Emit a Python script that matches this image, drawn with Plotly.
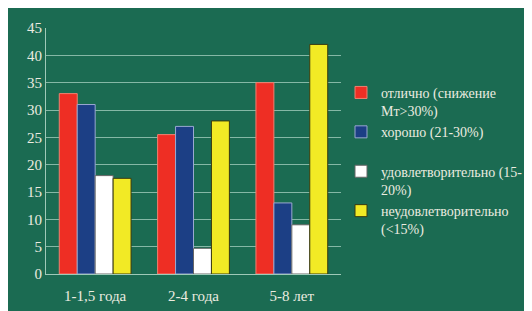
import plotly.graph_objects as go

categories = ["1-1,5 года", "2-4 года", "5-8 лет"]
series_names = ["отлично (снижение<br>Мт>30%)", "хорошо (21-30%)<br> ", "удовлетворительно (15-<br>20%)", "неудовлетворительно<br>(<15%)"]
excellent = [33, 25.5, 35]
good = [31, 27, 13]
satisfactory = [18, 4.7, 9]
unsatisfactory = [17.5, 28, 42]
colors = ["#ee2e24", "#1c3f85", "#ffffff", "#f2ea25"]
lines = ["#f08070", "#9aa8d0", "#666666", "#3a3a10"]

fig = go.Figure()
for name, vals, c, lc in zip(series_names, [excellent, good, satisfactory, unsatisfactory], colors, lines):
    fig.add_trace(go.Bar(x=categories, y=vals, name=name, marker=dict(color=c, line=dict(color=lc, width=1))))

bg = "#1b6b52"
txt = "#ecece0"
ff = "Liberation Serif, DejaVu Serif, serif"
fig.update_layout(
    width=532, height=311,
    paper_bgcolor=bg, plot_bgcolor=bg,
    margin=dict(l=38, r=186, t=16, b=45),
    barmode="group", bargap=0.27, bargroupgap=0.0,
    font=dict(family=ff, color=txt, size=14),
    legend=dict(x=1.0, y=0.46, yanchor="middle", xanchor="left", bgcolor="rgba(0,0,0,0)",
                font=dict(family=ff, size=14, color=txt), tracegroupgap=8, itemwidth=30, valign="top"),
    xaxis=dict(showgrid=False, showline=True, linecolor="#9fc9b8", ticks="", tickfont=dict(family=ff, size=15), ticklabelstandoff=8),
    yaxis=dict(range=[0, 45], dtick=5, showgrid=True, gridcolor="rgba(170,210,195,0.75)", gridwidth=1,
               showline=True, linecolor="#9fc9b8", zeroline=False, tickfont=dict(family=ff, size=15), ticks=""),
)
fig.write_html("out.html")
